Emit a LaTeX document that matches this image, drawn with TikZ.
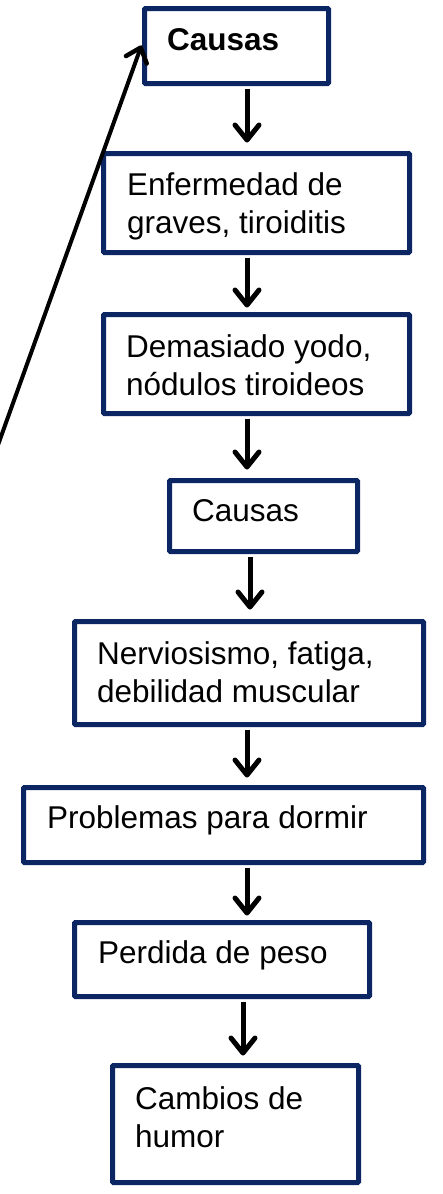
\documentclass[tikz,border=0pt]{standalone}
\usepackage{fontspec}
\setmainfont{Liberation Sans}
\usetikzlibrary{arrows.meta}
\definecolor{navy}{RGB}{12,38,100}
\begin{document}
\begin{tikzpicture}[x=1pt,y=-1pt,
  box/.style={draw=navy,line width=5pt,rounded corners=1pt,rectangle,inner sep=0pt},
  txt/.style={anchor=base west,inner sep=0pt,align=left,font=\fontsize{31.5}{38}\selectfont},
  arr/.style={draw=black,line width=5pt,-{Straight Barb[length=15pt,width=24pt,line width=5pt,round]},shorten <=2.5pt}]
\useasboundingbox (0,0) rectangle (442,1194);
\clip (0,0) rectangle (442,1194);
\node[box,minimum width=184pt,minimum height=75pt] (b1) at (236.5,46) {};
\node[box,minimum width=306pt,minimum height=99pt] (b2) at (256.5,203) {};
\node[box,minimum width=306pt,minimum height=99pt] (b3) at (256.5,364) {};
\node[box,minimum width=188pt,minimum height=71pt] (b4) at (263.5,516) {};
\node[box,minimum width=349pt,minimum height=103pt] (b5) at (249,673) {};
\node[box,minimum width=400pt,minimum height=75pt] (b6) at (223.5,825) {};
\node[box,minimum width=295pt,minimum height=74pt] (b7) at (222,959.5) {};
\node[box,minimum width=246pt,minimum height=117pt] (b8) at (235.5,1124) {};
\node[txt] (t1) at (167,50) {\textbf{Causas}};
\node[txt] (t2) at (127,233) {Enfermedad de\\graves, tiroiditis};
\node[txt] (t3) at (126,395) {Demasiado yodo,\\nódulos tiroideos};
\node[txt] (t4) at (192,521) {Causas};
\node[txt] (t5) at (97,702) {Nerviosismo, fatiga,\\debilidad muscular};
\node[txt] (t6) at (47,828) {Problemas para dormir};
\node[txt] (t7) at (98,963) {Perdida de peso};
\node[txt] (t8) at (135,1147) {Cambios de\\humor};
\draw[arr,shorten >=8.5pt] ([xshift=10.5pt]b1.south) -- ([xshift=-9.5pt]b2.north);
\draw[arr,shorten >=4.5pt] ([xshift=-9.5pt]b2.south) -- ([xshift=-9.5pt]b3.north);
\draw[arr,shorten >=8.5pt] ([xshift=-9.5pt]b3.south) -- ([xshift=-16.5pt]b4.north);
\draw[arr,shorten >=9.5pt] ([xshift=-13.5pt]b4.south) -- ([xshift=1pt]b5.north);
\draw[arr,shorten >=7.5pt] ([xshift=-2pt]b5.south) -- ([xshift=23.5pt]b6.north);
\draw[arr,shorten >=4.5pt] ([xshift=23.5pt]b6.south) -- ([xshift=25pt]b7.north);
\draw[arr,shorten >=7.5pt] ([xshift=21pt]b7.south) -- ([xshift=7.5pt]b8.north);
\coordinate (s) at (-11,470);
\draw[line width=4pt,-{Straight Barb[length=13pt,width=22pt,line width=4.5pt,round]},shorten >=1.5pt] (s) -- ([yshift=2pt]b1.west);
\end{tikzpicture}
\end{document}
